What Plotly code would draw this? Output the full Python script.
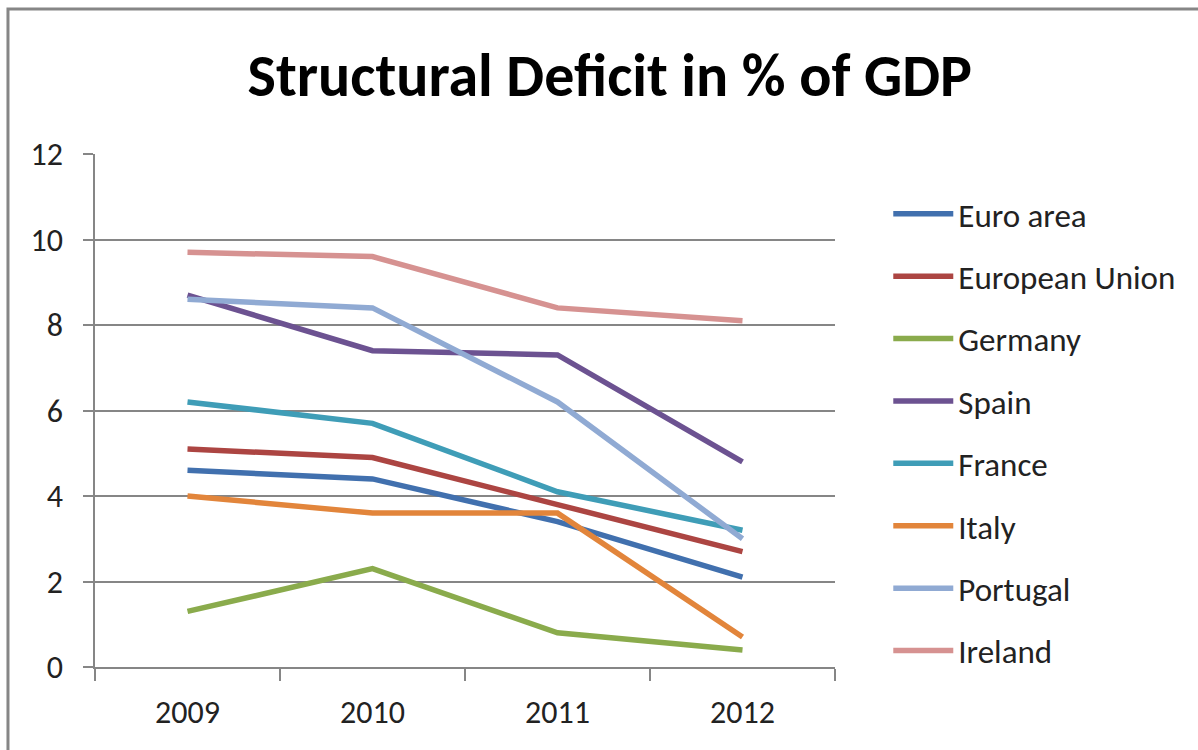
import plotly.graph_objects as go

years = ["2009", "2010", "2011", "2012"]

euro_area = [4.6, 4.4, 3.4, 2.1]
european_union = [5.1, 4.9, 3.8, 2.7]
germany = [1.3, 2.3, 0.8, 0.4]
spain = [8.7, 7.4, 7.3, 4.8]
france = [6.2, 5.7, 4.1, 3.2]
italy = [4.0, 3.6, 3.6, 0.7]
portugal = [8.6, 8.4, 6.2, 3.0]
ireland = [9.7, 9.6, 8.4, 8.1]

series_names = ["Euro area", "European Union", "Germany", "Spain",
                "France", "Italy", "Portugal", "Ireland"]
series_values = [euro_area, european_union, germany, spain,
                 france, italy, portugal, ireland]
series_colors = ["#4170AE", "#AC4542", "#8AAB4C", "#6C5291",
                 "#3F9DB7", "#E2853B", "#90AAD3", "#D69291"]

y_ticks = [0, 2, 4, 6, 8, 10, 12]

FONT = "Carlito, Calibri, Lato, sans-serif"

fig = go.Figure()
for name, vals, color in zip(series_names, series_values, series_colors):
    fig.add_trace(go.Scatter(
        x=years, y=vals, name=name, mode="lines",
        legendgroup=name,
        line=dict(color=color, width=5.5),
    ))

fig.update_layout(
    width=1198, height=750,
    margin=dict(l=95, r=363, t=154, b=83),
    paper_bgcolor="white", plot_bgcolor="white",
    font=dict(family=FONT, color="#000000"),
    title=dict(
        text="<b>Structural Deficit in % of GDP</b>",
        font=dict(family=FONT, size=60, color="#000000"),
        x=0.509, xanchor="center", xref="container",
        y=0.9, yanchor="middle", yref="container",
    ),
    legend=dict(
        x=1.072, xanchor="left", y=0.938, yanchor="top",
        font=dict(family=FONT, size=33, color="#222222"),
        tracegroupgap=16.5,
        itemwidth=60,
        bgcolor="rgba(0,0,0,0)",
    ),
    xaxis=dict(
        type="category", range=[-0.5, 3.5],
        tickson="boundaries", ticks="outside", ticklen=12,
        tickcolor="#868686", tickwidth=1.5,
        showline=True, linecolor="#868686", linewidth=1.5,
        showgrid=False, zeroline=False,
        tickfont=dict(family=FONT, size=32, color="#222222"),
        ticklabelstandoff=16,
    ),
    yaxis=dict(
        range=[0, 12], tickvals=y_ticks,
        ticks="outside", ticklen=10,
        tickcolor="#868686", tickwidth=1.5,
        showline=True, linecolor="#868686", linewidth=1.5,
        showgrid=True, gridcolor="#868686", gridwidth=1.5,
        zeroline=False,
        tickfont=dict(family=FONT, size=32, color="#222222"),
        ticklabelstandoff=14,
    ),
    shapes=[
        dict(type="rect", xref="paper", yref="paper",
             x0=-0.1176, x1=1.6, y0=-0.5, y1=1.2827,
             line=dict(color="#868686", width=3), fillcolor="rgba(0,0,0,0)",
             layer="below"),
    ],
)

fig.write_html("out.html")
